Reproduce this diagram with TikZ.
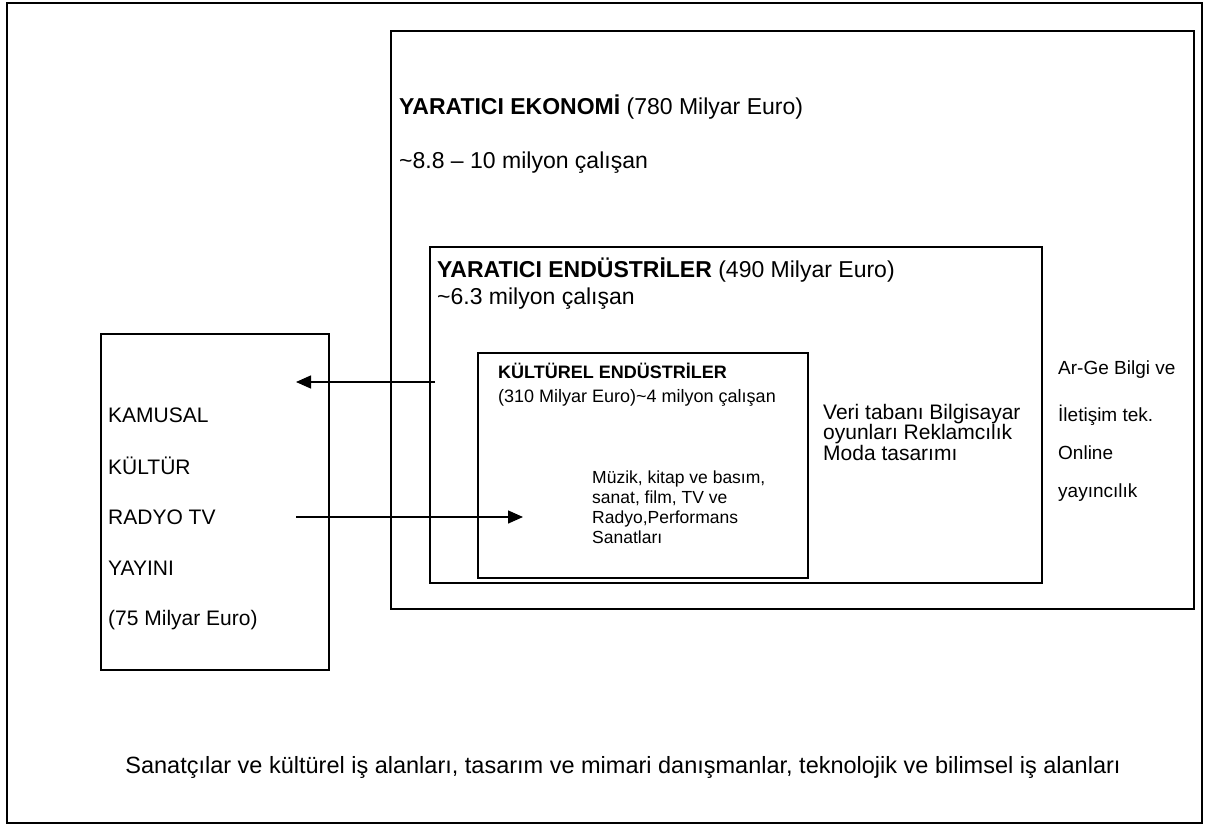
\documentclass[tikz,border=0pt]{standalone}
\usepackage{fontspec}
\setmainfont{Liberation Sans}
\usetikzlibrary{arrows.meta,positioning}
\tikzset{
    kutu/.style={draw, anchor=north west, inner sep=0pt},
    yazi/.style={anchor=west, inner sep=0pt, align=left},
    ok/.style={line width=1.4pt, -{Triangle[length=15pt,width=13pt]}}
}
\newcommand{\buyuk}{\fontsize{23}{27}\selectfont}
\newcommand{\orta}{\fontsize{17.5}{20}\selectfont}

\begin{document}
\begin{tikzpicture}[x=1pt,y=-1pt]
\useasboundingbox (0,0) rectangle (1205,825);
% kutular
\foreach \name/\x/\y/\w/\h/\lw in {cerceve/6/2/1195/820/2, ekonomi/390/30/803/578/2, endustri/429/246/612/336/1.5, kultur/477/352/330/225/1.5, kamusal/100/333/228/336/2}{
    \node[kutu, line width=\lw pt, minimum width=\w pt, minimum height=\h pt] (\name) at (\x,\y) {};
}
% yaratici ekonomi
\node[yazi, font=\buyuk] (ekonomiBaslik) at (399,107) {\textbf{YARATICI EKONOMİ} (780 Milyar Euro)};
\node[yazi, font=\buyuk] (ekonomiCalisan) at (399,163) {\textasciitilde 8.8 – 10 milyon çalışan};
% yaratici endustriler
\node[yazi, font=\buyuk] (endustriBaslik) at (437,283.5) {\textbf{YARATICI ENDÜSTRİLER} (490 Milyar Euro)\\\textasciitilde 6.3 milyon çalışan};
\node[yazi, font=\fontsize{21}{20.5}\selectfont] (endustriAlan) at (823,432) {Veri tabanı Bilgisayar\\oyunları Reklamcılık\\Moda tasarımı};
% kulturel endustriler
\node[yazi, font=\fontsize{18}{24}\selectfont] (kulturBaslik) at (498,385) {\textbf{KÜLTÜREL ENDÜSTRİLER}\\(310 Milyar Euro)\textasciitilde 4 milyon çalışan};
\node[yazi, font=\orta] (kulturAlan) at (592,507) {Müzik, kitap ve basım,\\sanat, film, TV ve\\Radyo,Performans\\Sanatları};
% sag kenar
\foreach \y/\t/\n in {370/{Ar-Ge Bilgi ve}/1, 415/{İletişim tek.}/2, 453/{Online}/3, 493/{yayıncılık}/4}{
    \node[yazi, font=\fontsize{19}{22}\selectfont] (arge\n) at (1058,\y) {\t};
}
% kamusal kultur
\foreach \y/\t/\n in {415/{KAMUSAL}/1, 466/{KÜLTÜR}/2, 517/{RADYO TV}/3, 568/{YAYINI}/4, 620/{(75 Milyar Euro)}/5}{
    \node[yazi, font=\fontsize{21}{24}\selectfont] (kamu\n) at (108,\y) {\t};
}
% alt yazi
\node[font=\fontsize{23.5}{27}\selectfont, inner sep=0pt] (altYazi) at (623,767) {Sanatçılar ve kültürel iş alanları, tasarım ve mimari danışmanlar, teknolojik ve bilimsel iş alanları};
% oklar
\coordinate (okUstBas) at (435,382);
\coordinate (okUstSon) at (296,382);
\coordinate (okAltBas) at (296,517);
\coordinate (okAltSon) at (523,517);
\draw[ok] (okUstBas) -- (okUstSon);
\draw[ok] (okAltBas) -- (okAltSon);
\end{tikzpicture}
\end{document}
